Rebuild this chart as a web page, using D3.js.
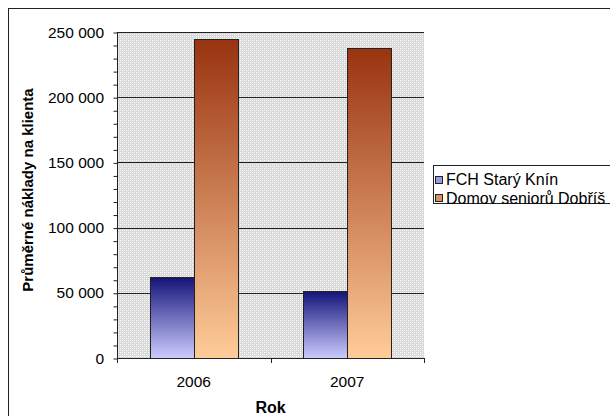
<!DOCTYPE html>
<html>
<head>
<meta charset="utf-8">
<script src="https://cdn.jsdelivr.net/npm/d3@7"></script>
<style>
  body { margin: 0; background: #fff; }
  svg { display: block; font-family: "Liberation Sans", Arial, sans-serif; }
</style>
</head>
<body>
<div id="chart"></div>
<script>
// chart values
var years = ['2006', '2007'];
var seriesNames = ['FCH Starý Knín', 'Domov seniorů Dobříš'];
var fchValues = [62000, 51500];
var domovValues = [244500, 237500];
var yTicks = [0, 50000, 100000, 150000, 200000, 250000];

var seriesColors = [
    { top: '#14147a', bottom: '#ccccff', key: '#9a9ae0' },
    { top: '#993310', bottom: '#ffcc99', key: '#d98f62' }
];

var svg = d3.select('#chart')
    .append('svg')
    .attr('width', 610)
    .attr('height', 416);

var defs = svg.append('defs');

// dotted plot background
var pat = defs.append('pattern')
    .attr('id', 'dots')
    .attr('width', 4)
    .attr('height', 4)
    .attr('patternUnits', 'userSpaceOnUse');
pat.append('rect').attr('width', 4).attr('height', 4).attr('fill', '#d9d9d9');
pat.append('rect').attr('x', 0).attr('y', 0).attr('width', 1).attr('height', 1).attr('fill', '#ffffff');
pat.append('rect').attr('x', 2).attr('y', 2).attr('width', 1).attr('height', 1).attr('fill', '#ffffff');
pat.append('rect').attr('x', 2).attr('y', 0).attr('width', 1).attr('height', 1).attr('fill', '#eeeeee');
pat.append('rect').attr('x', 0).attr('y', 2).attr('width', 1).attr('height', 1).attr('fill', '#eeeeee');

seriesColors.forEach(function(c, i) {
    var g = defs.append('linearGradient')
        .attr('id', 'grad' + i)
        .attr('x1', 0).attr('y1', 0)
        .attr('x2', 0).attr('y2', 1);
    g.append('stop').attr('offset', '0%').attr('stop-color', c.top);
    g.append('stop').attr('offset', '100%').attr('stop-color', c.bottom);
});

// outer frame (runs past the window on right and bottom)
svg.append('rect')
    .attr('x', 8.5)
    .attr('y', 8.5)
    .attr('width', 700)
    .attr('height', 500)
    .attr('fill', '#fff')
    .attr('stroke', '#222')
    .attr('stroke-width', 1);

var plotLeft = 117, plotRight = 424, plotTop = 32, plotBottom = 358;

var xScale = d3.scaleBand()
    .domain(years)
    .range([plotLeft, plotRight])
    .padding(0);

var yScale = d3.scaleLinear()
    .domain([0, 250000])
    .range([plotBottom, plotTop]);

var fmt = d3.formatLocale({ decimal: ',', thousands: ' ', grouping: [3], currency: ['', ''] }).format(',d');

// plot area
svg.append('rect')
    .attr('x', plotLeft)
    .attr('y', plotTop)
    .attr('width', plotRight - plotLeft)
    .attr('height', plotBottom - plotTop)
    .attr('fill', 'url(#dots)');

// gridlines
svg.append('g')
    .selectAll('line')
    .data(yTicks.slice(1))
    .enter()
    .append('line')
    .attr('x1', plotLeft)
    .attr('x2', plotRight)
    .attr('y1', d => Math.round(yScale(d)) + 0.5)
    .attr('y2', d => Math.round(yScale(d)) + 0.5)
    .attr('stroke', '#222')
    .attr('stroke-width', 1);

// bars
var barW = xScale.bandwidth() / 3.5;
var data = [fchValues, domovValues];

data.forEach(function(values, si) {
    svg.append('g')
        .selectAll('rect')
        .data(values)
        .enter()
        .append('rect')
        .attr('x', (d, i) => Math.round(xScale(years[i]) + barW * 0.75 + si * barW) + 0.5)
        .attr('y', d => Math.round(yScale(d)) + 0.5)
        .attr('width', Math.round(barW))
        .attr('height', d => plotBottom - Math.round(yScale(d)))
        .attr('fill', 'url(#grad' + si + ')')
        .attr('stroke', '#222')
        .attr('stroke-width', 1);
});

// y axis
var yAxis = svg.append('g')
    .attr('transform', 'translate(' + (plotLeft + 0.5) + ', 0.5)')
    .call(d3.axisLeft(yScale)
        .tickValues(d3.range(0, 250001, 10000))
        .tickSize(4)
        .tickFormat(''));
yAxis.select('.domain').attr('stroke', '#222').attr('d', 'M0,' + plotTop + 'V' + plotBottom);
yAxis.selectAll('line').attr('stroke', '#222');

svg.append('g')
    .selectAll('text')
    .data(yTicks)
    .enter()
    .append('text')
    .attr('x', 104)
    .attr('y', d => yScale(d))
    .attr('dy', '0.36em')
    .attr('text-anchor', 'end')
    .attr('font-size', '15.5px')
    .attr('fill', '#000')
    .text(d => fmt(d));

// x axis
var xAxis = svg.append('g')
    .attr('transform', 'translate(0, ' + (plotBottom + 0.5) + ')')
    .call(d3.axisBottom(xScale).tickSize(0).tickFormat(''));
xAxis.select('.domain').attr('stroke', '#222').attr('d', 'M' + plotLeft + ',0H' + plotRight);

svg.append('g')
    .selectAll('line')
    .data([plotLeft, xScale('2007'), plotRight])
    .enter()
    .append('line')
    .attr('x1', d => Math.round(d) + 0.5)
    .attr('x2', d => Math.round(d) + 0.5)
    .attr('y1', plotBottom)
    .attr('y2', plotBottom + 5)
    .attr('stroke', '#222');

svg.append('g')
    .selectAll('text')
    .data(years)
    .enter()
    .append('text')
    .attr('x', d => xScale(d) + xScale.bandwidth() / 2)
    .attr('y', 386.5)
    .attr('text-anchor', 'middle')
    .attr('font-size', '15.5px')
    .text(d => d);

// axis titles
svg.append('text')
    .attr('x', (plotLeft + plotRight) / 2)
    .attr('y', 413)
    .attr('text-anchor', 'middle')
    .attr('font-size', '16px')
    .attr('font-weight', 'bold')
    .text('Rok');

svg.append('text')
    .attr('transform', 'translate(33, 190) rotate(-90)')
    .attr('text-anchor', 'middle')
    .attr('font-size', '15px')
    .attr('font-weight', 'bold')
    .text('Průměrné náklady na klienta');

// legend
var legend = svg.append('g');
legend.append('rect')
    .attr('x', 433.5)
    .attr('y', 165.5)
    .attr('width', 200)
    .attr('height', 38)
    .attr('fill', '#fff')
    .attr('stroke', '#222');

seriesNames.forEach(function(name, i) {
    var cy = 179.5 + i * 18.5;
    legend.append('rect')
        .attr('x', 435.5)
        .attr('y', Math.round(cy - 4) + 0.5)
        .attr('width', 7)
        .attr('height', 7)
        .attr('fill', seriesColors[i].key)
        .attr('stroke', '#222');
    legend.append('text')
        .attr('x', 446)
        .attr('y', cy)
        .attr('dy', '0.36em')
        .attr('font-size', '16px')
        .text(name);
});
</script>
</body>
</html>
